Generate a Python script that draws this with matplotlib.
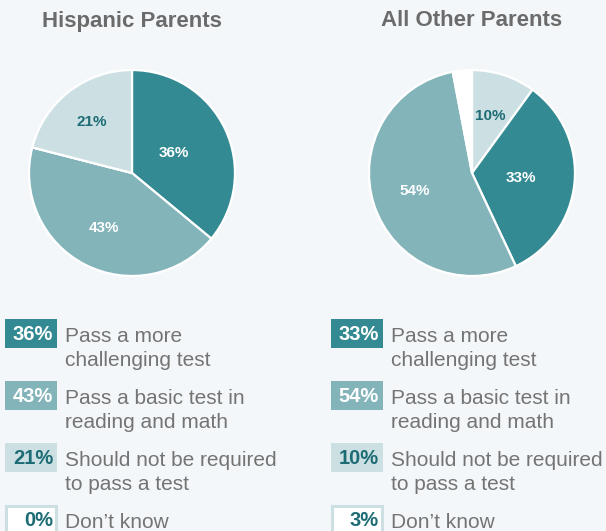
import numpy as np
import matplotlib.pyplot as plt
from matplotlib.patches import Rectangle

plt.rcParams['font.family'] = ['Liberation Sans', 'DejaVu Sans']

# answers, in legend order
answers = ['Pass a more\nchallenging test',
           'Pass a basic test in\nreading and math',
           'Should not be required\nto pass a test',
           'Don\u2019t know']
hispanic = [36, 43, 21, 0]
all_other = [33, 54, 10, 3]
groups = ['Hispanic Parents', 'All Other Parents']

BG = '#f4f7f9'
DARK = '#348a93'
MID = '#82b4ba'
LIGHT = '#cce0e3'
INK = '#1d6c75'
GRAY = '#747474'
fills = [DARK, MID, LIGHT, 'white']
pct_colors = ['white', 'white', INK, INK]

W, H = 606, 531
fig = plt.figure(figsize=(W / 100, H / 100), dpi=100, facecolor=BG)

# slice order clockwise from 12 o'clock, and how far out each label sits
pie_setup = [
    dict(vals=hispanic, order=[0, 1, 3, 2], cx=132, dist=[0.45, 0.6, 0.63, 0]),
    dict(vals=all_other, order=[2, 0, 1, 3], cx=472, dist=[0.48, 0.58, 0.58, 0]),
]
R, CY = 104, 173

for g, setup in enumerate(pie_setup):
    cx = setup['cx']
    ax = fig.add_axes([(cx - R) / W, (H - CY - R) / H, 2 * R / W, 2 * R / H])
    ax.set_axis_off()
    order = setup['order']
    vals = [setup['vals'][i] for i in order]
    wedges, _ = ax.pie(vals, colors=[fills[i] for i in order], startangle=90,
                       counterclock=False, radius=1,
                       wedgeprops=dict(edgecolor='white', linewidth=1.6))
    ax.set_xlim(-1.01, 1.01)
    ax.set_ylim(-1.01, 1.01)
    for w, i in zip(wedges, order):
        if setup['vals'][i] < 5:
            continue
        mid = np.deg2rad((w.theta1 + w.theta2) / 2)
        d = setup['dist'][i]
        ax.text(d * np.cos(mid), d * np.sin(mid), f'{setup["vals"][i]}%',
                ha='center', va='center', fontsize=11, fontweight='bold',
                color=pct_colors[i])
    fig.text(cx / W, 1 - 21 / H, groups[g], ha='center', va='center',
             fontsize=16, fontweight='bold', color='#6b6b6b')

# legend blocks under each pie, drawn in pixel space
lg = fig.add_axes([0, 0, 1, 1], facecolor='none')
lg.set_xlim(0, W)
lg.set_ylim(H, 0)
lg.set_axis_off()
for vals, bx in [(hispanic, 5), (all_other, 331)]:
    for i, (v, lab) in enumerate(zip(vals, answers)):
        top = 319 + i * 62
        if i == 3:
            lg.add_patch(Rectangle((bx + 1, top + 1), 50, 30, facecolor='white',
                                   edgecolor=LIGHT, linewidth=2.2, clip_on=False))
        else:
            lg.add_patch(Rectangle((bx, top), 52, 29, facecolor=fills[i],
                                   edgecolor='none'))
        lg.text(bx + 48, top + 15, f'{v}%', ha='right', va='center',
                fontsize=14.5, fontweight='bold', color=pct_colors[i])
        for k, line in enumerate(lab.split('\n')):
            lg.text(bx + 60, top + 23 + k * 23.5, line, ha='left',
                    va='baseline', fontsize=15, color=GRAY)

fig.savefig('out.png', dpi=100, facecolor=BG)
